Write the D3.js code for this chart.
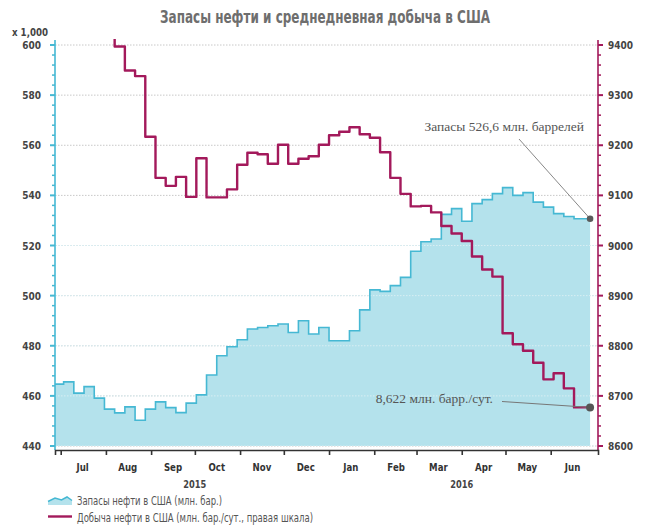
<!DOCTYPE html>
<html>
<head>
<meta charset="utf-8">
<script src="https://cdn.jsdelivr.net/npm/d3@7"></script>
<style>
  html, body { margin: 0; padding: 0; background: #fff; }
  svg { display: block; }
  .cond { font-family: "DejaVu Sans", "Liberation Sans", sans-serif; }
  .serif { font-family: "Liberation Serif", "DejaVu Serif", serif; }
</style>
</head>
<body>
<svg id="chart" width="646" height="525"></svg>
<script>
// ---------- data ----------
const weekDates = [
  "2015-06-26","2015-07-03","2015-07-10","2015-07-17","2015-07-24","2015-07-31",
  "2015-08-07","2015-08-14","2015-08-21","2015-08-28","2015-09-04","2015-09-11",
  "2015-09-18","2015-09-25","2015-10-02","2015-10-09","2015-10-16","2015-10-23",
  "2015-10-30","2015-11-06","2015-11-13","2015-11-20","2015-11-27","2015-12-04",
  "2015-12-11","2015-12-18","2015-12-25","2016-01-01","2016-01-08","2016-01-15",
  "2016-01-22","2016-01-29","2016-02-05","2016-02-12","2016-02-19","2016-02-26",
  "2016-03-04","2016-03-11","2016-03-18","2016-03-25","2016-04-01","2016-04-08",
  "2016-04-15","2016-04-22","2016-04-29","2016-05-06","2016-05-13","2016-05-20",
  "2016-05-27","2016-06-03","2016-06-10","2016-06-17","2016-06-24"
];
// US crude oil stocks, million barrels (left axis)
const stocks = [
  464.7, 465.6, 461.1, 463.7, 459.1, 454.7, 453.2, 455.6, 450.3, 454.7,
  457.6, 455.3, 453.3, 457.1, 460.4, 468.3, 476.0, 479.6, 482.4, 486.7,
  487.3, 488.0, 488.7, 485.3, 490.0, 484.7, 487.3, 482.0, 482.0, 486.0,
  494.3, 502.3, 501.7, 504.0, 507.3, 517.7, 521.5, 522.6, 532.4, 534.7,
  529.7, 536.7, 538.3, 540.7, 543.1, 540.0, 541.1, 537.3, 535.3, 532.7,
  531.6, 530.7, 530.7
];
// US crude production, thousand barrels/day (right axis); first weeks are above the axis top
const production = [
  9600, 9600, 9550, 9500, 9460, 9420, 9397, 9349, 9338, 9217,
  9135, 9119, 9137, 9097, 9174, 9096, 9096, 9112, 9161, 9185,
  9182, 9163, 9201, 9163, 9173, 9178, 9201, 9220, 9227, 9236,
  9222, 9215, 9186, 9135, 9103, 9078, 9079, 9066, 9039, 9024,
  9009, 8978, 8952, 8938, 8825, 8803, 8790, 8766, 8733, 8745,
  8715, 8677, 8677
];
const seriesEnd = "2016-06-28";          // last weekly step is drawn up to this date
const leftTicks = [440, 460, 480, 500, 520, 540, 560, 580, 600];
const rightTicks = [8600, 8700, 8800, 8900, 9000, 9100, 9200, 9300, 9400];
const monthLabels = ["Jul","Aug","Sep","Oct","Nov","Dec","Jan","Feb","Mar","Apr","May","Jun"];
const yearLabels = [{label: "2015", date: "2015-10-01"}, {label: "2016", date: "2016-04-01"}];
const title = "Запасы нефти и среднедневная добыча в США";
const unitLabel = "x 1,000";
const stockNote = "Запасы 526,6 млн. баррелей";
const prodNote = "8,622 млн. барр./сут.";
const legendItems = ["Запасы нефти в США (млн. бар.)", "Добыча нефти в США (млн. бар./сут., правая шкала)"];

// ---------- layout ----------
const W = 646, H = 525;
const plotL = 55, plotR = 598, plotT = 45, plotB = 446, axisY = 450;
const colFill = "#b4e2ec", colStroke = "#45b8d3", colProd = "#a3195b", colText = "#444";

const parse = d3.timeParse("%Y-%m-%d");
const svg = d3.select("#chart");

// squeeze text horizontally to mimic a condensed face
function squeeze(sel, f) {
  sel.each(function () {
    const w = this.getComputedTextLength();
    this.setAttribute("textLength", (w * f).toFixed(1));
    this.setAttribute("lengthAdjust", "spacingAndGlyphs");
  });
}
function fitWidth(sel, w) {
  sel.attr("textLength", w).attr("lengthAdjust", "spacingAndGlyphs");
}

// time scale anchored on month starts
const x0 = d3.scaleTime().domain([parse("2015-07-01"), parse("2016-06-01")]).range([60.7, 550.7]);
const x = d3.scaleTime().domain([x0.invert(plotL), x0.invert(plotR)]).range([plotL, plotR]);
const yL = d3.scaleLinear().domain([440, 600]).range([plotB, plotT]);
const yR = d3.scaleLinear().domain([8600, 9400]).range([plotB, plotT]);

const endDate = parse(seriesEnd);
const stockData = weekDates.map((d, i) => ({date: parse(d), v: stocks[i]}));
stockData.push({date: endDate, v: stocks[stocks.length - 1]});
const prodData = weekDates.map((d, i) => ({date: parse(d), v: production[i]}));
prodData.push({date: endDate, v: production[production.length - 1]});

// clip
svg.append("defs").append("clipPath").attr("id", "plotClip")
  .append("rect").attr("x", plotL).attr("y", 39).attr("width", plotR - plotL).attr("height", plotB - 39);

// title
svg.append("text").attr("class", "cond")
  .attr("x", 160).attr("y", 23).attr("text-anchor", "start")
  .attr("font-size", 17).attr("fill", "#6e6e6e").attr("font-weight", "bold")
  .text(title).call(fitWidth, 330);

// gridlines
svg.append("g").selectAll("line").data(leftTicks).join("line")
  .attr("x1", plotL).attr("x2", plotR)
  .attr("y1", d => yL(d)).attr("y2", d => yL(d))
  .attr("stroke", "#c8c8c8").attr("stroke-width", 1).attr("stroke-dasharray", "1.5,1.5");

// area
const plot = svg.append("g").attr("clip-path", "url(#plotClip)");
plot.append("path").datum(stockData)
  .attr("d", d3.area().curve(d3.curveStepAfter).x(d => x(d.date)).y0(yL(440)).y1(d => yL(d.v)))
  .attr("fill", colFill);
plot.append("g").selectAll("line").data(leftTicks.filter(d => d < 540)).join("line")
  .attr("x1", plotL).attr("x2", plotR)
  .attr("y1", d => yL(d)).attr("y2", d => yL(d))
  .attr("stroke", "#d8eef3").attr("stroke-width", 1).attr("stroke-dasharray", "1.5,1.5");
plot.append("path").datum(stockData)
  .attr("d", d3.line().curve(d3.curveStepAfter).x(d => x(d.date)).y(d => yL(d.v)))
  .attr("fill", "none").attr("stroke", colStroke).attr("stroke-width", 1.6);

// production line
plot.append("path").datum(prodData)
  .attr("d", d3.line().curve(d3.curveStepAfter).x(d => x(d.date)).y(d => yR(d.v)))
  .attr("fill", "none").attr("stroke", colProd).attr("stroke-width", 2.4)
  .attr("stroke-linejoin", "round");

// left axis
const gL = svg.append("g");
gL.append("line").attr("x1", plotL).attr("x2", plotL).attr("y1", 40).attr("y2", axisY)
  .attr("stroke", colStroke).attr("stroke-width", 1.6);
const leftMinor = d3.range(440, 601, 4);
gL.selectAll("line.mn").data(leftMinor).join("line").attr("class", "mn")
  .attr("x1", d => leftTicks.includes(d) ? plotL - 5 : plotL - 3).attr("x2", plotL)
  .attr("y1", d => yL(d)).attr("y2", d => yL(d))
  .attr("stroke", colStroke).attr("stroke-width", d => leftTicks.includes(d) ? 2 : 1.5);
gL.selectAll("text").data(leftTicks).join("text").attr("class", "cond")
  .attr("x", 41).attr("y", d => yL(d) + 4).attr("text-anchor", "end")
  .attr("font-size", 11).attr("font-weight", "bold").attr("fill", colText)
  .text(d => d).call(squeeze, 0.82);
svg.append("text").attr("class", "cond")
  .attr("x", 48).attr("y", 36).attr("text-anchor", "end")
  .attr("font-size", 11).attr("font-weight", "bold").attr("fill", colText)
  .text(unitLabel).call(fitWidth, 36);

// right axis
const gR = svg.append("g");
gR.append("line").attr("x1", plotR).attr("x2", plotR).attr("y1", 40).attr("y2", axisY)
  .attr("stroke", colProd).attr("stroke-width", 1.6);
const rightMinor = d3.range(8600, 9401, 20);
gR.selectAll("line.mn").data(rightMinor).join("line").attr("class", "mn")
  .attr("x1", plotR).attr("x2", d => rightTicks.includes(d) ? plotR + 5 : plotR + 3)
  .attr("y1", d => yR(d)).attr("y2", d => yR(d))
  .attr("stroke", colProd).attr("stroke-width", d => rightTicks.includes(d) ? 2 : 1.5);
gR.selectAll("text").data(rightTicks).join("text").attr("class", "cond")
  .attr("x", 608).attr("y", d => yR(d) + 4).attr("text-anchor", "start")
  .attr("font-size", 11).attr("font-weight", "bold").attr("fill", colText)
  .text(d => d).call(squeeze, 0.82);

// x axis
const monthStarts = d3.timeMonth.range(parse("2015-07-01"), parse("2016-07-01"));
const gX = svg.append("g").attr("transform", `translate(0,${axisY})`)
  .call(d3.axisBottom(x).tickValues(monthStarts).tickSize(5).tickFormat(""));
gX.select(".domain").attr("stroke", "#333").attr("stroke-width", 1.6);
gX.selectAll(".tick line").attr("stroke", "#333").attr("stroke-width", 1.6);
svg.append("g").selectAll("text").data(monthStarts).join("text").attr("class", "cond")
  .attr("x", d => x(d3.timeDay.offset(d, 15))).attr("y", 471)
  .attr("text-anchor", "middle").attr("font-size", 10.5).attr("font-weight", "bold").attr("fill", "#333")
  .text((d, i) => monthLabels[i]).call(squeeze, 0.82);
svg.append("g").selectAll("text").data(yearLabels).join("text").attr("class", "cond")
  .attr("x", d => x(parse(d.date))).attr("y", 488)
  .attr("text-anchor", "middle").attr("font-size", 11).attr("font-weight", "bold").attr("fill", "#444")
  .text(d => d.label).call(squeeze, 0.75);

// annotations
const lastS = stockData[stockData.length - 1];
const lastP = prodData[prodData.length - 1];
svg.append("line").attr("x1", 519).attr("y1", 139).attr("x2", x(lastS.date)).attr("y2", yL(lastS.v))
  .attr("stroke", "#888").attr("stroke-width", 1);
svg.append("circle").attr("cx", x(lastS.date)).attr("cy", yL(lastS.v)).attr("r", 3.3).attr("fill", "#5a5a5a");
svg.append("text").attr("class", "serif").attr("x", 584).attr("y", 131).attr("text-anchor", "end")
  .attr("font-size", 13.5).attr("fill", "#555").text(stockNote);

svg.append("line").attr("x1", 502).attr("y1", 401.5).attr("x2", x(lastP.date)).attr("y2", yR(lastP.v))
  .attr("stroke", "#777").attr("stroke-width", 1);
svg.append("circle").attr("cx", x(lastP.date)).attr("cy", yR(lastP.v)).attr("r", 4).attr("fill", "#555");
svg.append("text").attr("class", "serif").attr("x", 493).attr("y", 403).attr("text-anchor", "end")
  .attr("font-size", 13.5).attr("fill", "#555").text(prodNote);

// legend
const lg = svg.append("g");
lg.append("path")
  .attr("d", "M48,505 L48,501.5 L55,498 L61.5,500 L67,497 L72,500.5 L72,505 Z")
  .attr("fill", colFill);
lg.append("path")
  .attr("d", "M48,501.5 L55,498 L61.5,500 L67,497 L72,500.5")
  .attr("fill", "none").attr("stroke", colStroke).attr("stroke-width", 1.5);
lg.append("line").attr("x1", 48).attr("x2", 72).attr("y1", 516.5).attr("y2", 516.5)
  .attr("stroke", colProd).attr("stroke-width", 2.4);
const legendWidths = [145, 236];
lg.selectAll("text").data(legendItems).join("text").attr("class", "cond")
  .attr("x", 77).attr("y", (d, i) => 505 + i * 16.5)
  .attr("font-size", 12.5).attr("fill", "#555")
  .text(d => d)
  .each(function (d, i) { d3.select(this).call(fitWidth, legendWidths[i]); });
</script>
</body>
</html>
